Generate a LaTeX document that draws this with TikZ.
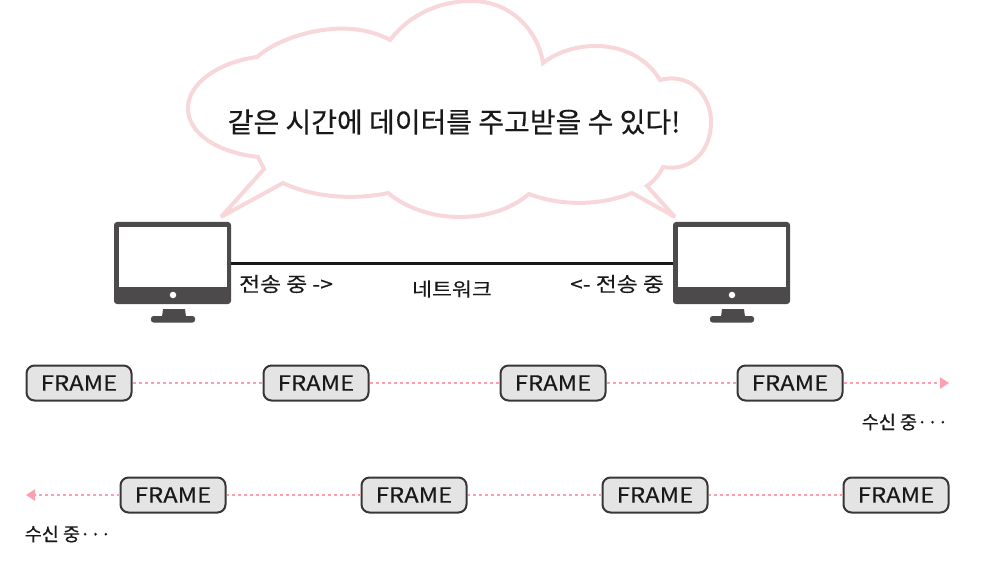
\documentclass[tikz,border=0pt]{standalone}
\usepackage{fontspec}
\setmainfont[FakeBold=0.35]{Noto Sans CJK KR}
\newfontfamily\widefont[FakeBold=0.25,FakeStretch=1.14]{Noto Sans CJK KR}
\usetikzlibrary{arrows.meta}
\definecolor{cloudpink}{HTML}{F8D7DA}
\definecolor{dotpink}{HTML}{FF9EAE}
\definecolor{monitorgray}{HTML}{4D4A4B}
\definecolor{framegray}{HTML}{E4E4E4}
\definecolor{frameline}{HTML}{3A3536}
\tikzset{
  monitorbody/.style={draw=none,fill=monitorgray,rounded corners=3pt,minimum width=117pt,minimum height=82pt,inner sep=0pt},
  monitorscreen/.style={draw=none,fill=white,minimum width=108pt,minimum height=60pt,inner sep=0pt},
  monitordot/.style={circle,fill=white,minimum size=6.5pt,inner sep=0pt},
  framebox/.style={draw=frameline,line width=2pt,fill=framegray,rounded corners=8pt,minimum width=105pt,minimum height=35pt,inner sep=0pt,font=\widefont\fontsize{21}{23}\selectfont,text=black!90},
  dotline/.style={draw=dotpink,line width=2.5pt,dash pattern=on 3pt off 3pt},
  dotarrow/.style={dotline,-{Triangle[length=9pt,width=11pt,fill=dotpink]}},
  caption/.style={inner sep=0pt,font=\widefont\fontsize{20}{22}\selectfont,text=black!90},
  netcaption/.style={inner sep=0pt,font=\widefont\fontsize{19}{21}\selectfont,text=black!90},
  recvcaption/.style={inner sep=0pt,font=\fontsize{18.5}{21}\selectfont,text=black!90},
  cloudline/.style={draw=cloudpink,line width=4pt,line join=miter,miter limit=2,fill=white}
}
\newcommand{\monitorfoot}[1]{%
  \fill[monitorgray] (#1-10,309) -- (#1+12,309) -- (#1+13,317) -- (#1-11,317) -- cycle;
  \fill[monitorgray,rounded corners=2.5pt] (#1-22,316) rectangle (#1+22,322.5);
}
\begin{document}
\begin{tikzpicture}[x=1pt,y=-1pt]
\useasboundingbox (0,0) rectangle (1000,561);
% cloud
\draw[cloudline] (221,217) -- (264,169) -- (258,157)
  .. controls (215,152) and (187,132) .. (188,107)
  .. controls (189,82) and (220,62) .. (257,57)
  .. controls (280,36) and (345,15) .. (390,40)
  .. controls (410,14) and (440,1) .. (472,1)
  .. controls (510,1) and (538,30) .. (543,63)
  .. controls (575,38) and (635,38) .. (660,80)
  .. controls (690,72) and (711,95) .. (711,122)
  .. controls (711,152) and (690,172) .. (663,167)
  .. controls (660,174) and (654,181) .. (647,186)
  -- (675,217) -- (632,193)
  .. controls (600,206) and (560,206) .. (529,194)
  .. controls (510,210) and (485,217) .. (460,217)
  .. controls (430,217) and (405,207) .. (388,193)
  .. controls (355,200) and (315,198) .. (283,183)
  -- cycle;
\node[inner sep=0pt,font=\fontsize{28}{30}\selectfont,text=black!90] (title) at (454,122) {같은 시간에 데이터를 주고받을 수 있다!};
% monitors
\node[monitorbody] (pcL) at (172.5,263) {};
\node[monitorscreen] (scrL) at (173,257) {};
\node[monitordot] (dotL) at (173,295) {};
\monitorfoot{173}
\node[monitorbody] (pcR) at (731.5,263) {};
\node[monitorscreen] (scrR) at (732,257) {};
\node[monitordot] (dotR) at (732,295) {};
\monitorfoot{732}
\draw[line width=3pt,black!90] (pcL.east) -- (pcR.west);
\node[caption] (sendL) at (286,284) {전송 중 ->};
\node[netcaption] (net) at (452,289) {네트워크};
\node[caption] (sendR) at (617,284) {<- 전송 중};
% row 1
\node[framebox] (a1) at (79,383) {FRAME};
\node[framebox] (a2) at (316,383) {FRAME};
\node[framebox] (a3) at (553,383) {FRAME};
\node[framebox] (a4) at (790,383) {FRAME};
\coordinate (aend) at (949,383);
\draw[dotline] (a1) -- (a2);
\draw[dotline] (a2) -- (a3);
\draw[dotline] (a3) -- (a4);
\draw[dotarrow] (a4) -- (aend);
\node[recvcaption] (recvA) at (905,422) {수신 중···};
% row 2
\node[framebox] (b1) at (173,495) {FRAME};
\node[framebox] (b2) at (414,495) {FRAME};
\node[framebox] (b3) at (655,495) {FRAME};
\node[framebox] (b4) at (896,495) {FRAME};
\coordinate (bend) at (26,495);
\draw[dotline] (b4) -- (b3);
\draw[dotline] (b3) -- (b2);
\draw[dotline] (b2) -- (b1);
\draw[dotarrow] (b1) -- (bend);
\node[recvcaption] (recvB) at (68,534) {수신 중···};
\end{tikzpicture}
\end{document}
